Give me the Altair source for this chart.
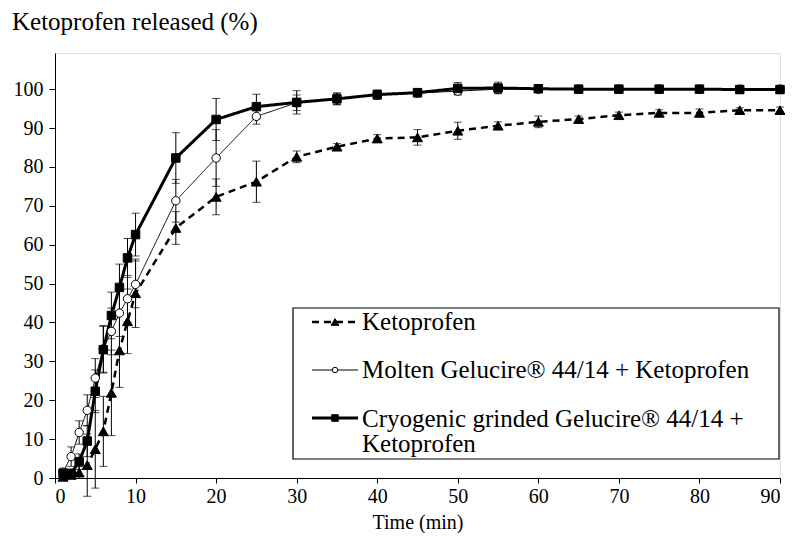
import altair as alt
import pandas as pd

# ---------------- data ----------------
times = [1, 2, 3, 4, 5, 6, 7, 8, 9, 10, 15, 20, 25, 30, 35, 40, 45, 50, 55, 60, 65, 70, 75, 80, 85, 90]

series_names = [
    "Ketoprofen",
    "Molten Gelucire® 44/14 + Ketoprofen",
    "Cryogenic grinded Gelucire® 44/14 + Ketoprofen",
]

keto_mean = [0.3, 0.8, 1.4, 3.3, 7.4, 12.0, 21.9, 32.8, 40.3, 47.5, 64.3, 72.3, 76.2, 82.6, 85.2,
             87.3, 87.6, 89.3, 90.6, 91.6, 92.3, 93.3, 93.9, 93.9, 94.6, 94.6]
keto_sd = [0.5, 1.0, 1.5, 8.0, 10.0, 9.0, 11.0, 9.5, 8.3, 8.8, 4.2, 4.6, 5.3, 1.5, 0.8,
           1.0, 2.0, 2.2, 1.0, 1.5, 0.8, 0.8, 0.8, 1.0, 0.6, 0.8]

molten_mean = [1.5, 5.5, 11.7, 17.4, 25.7, 33.2, 37.7, 42.4, 46.1, 49.8, 71.3, 82.3, 93.0, 96.5, 97.5,
               98.5, 99.0, 99.5, 100.0, 100.0, 100.0, 100.0, 100.0, 100.0, 100.0, 100.0]
molten_sd = [1.0, 2.5, 3.0, 4.0, 5.0, 6.0, 6.0, 6.0, 6.0, 6.0, 5.5, 7.3, 2.0, 2.0, 1.5,
             1.0, 1.0, 1.0, 1.0, 0.5, 0.5, 0.5, 0.5, 0.5, 0.5, 0.5]

cryo_mean = [1.2, 1.2, 4.2, 9.5, 22.3, 33.0, 41.8, 49.0, 56.6, 62.6, 82.3, 92.2, 95.5, 96.6, 97.5,
             98.6, 99.1, 100.2, 100.3, 100.1, 100.0, 100.0, 100.0, 100.0, 99.9, 99.9]
cryo_sd = [1.0, 1.0, 2.0, 4.0, 5.5, 6.0, 6.0, 6.0, 5.0, 5.5, 6.5, 5.4, 3.2, 3.0, 1.5,
           1.2, 0.8, 1.5, 1.5, 0.6, 0.5, 0.5, 0.5, 0.5, 0.5, 0.5]

x_ticks = list(range(0, 91, 10))
y_ticks = list(range(0, 101, 10))

chart_title = "Ketoprofen released (%)"

# ---------------- build tables ----------------
def make_df(name, means, sds):
    return pd.DataFrame({
        "series": name,
        "time": times,
        "value": means,
        "lo": [m - s for m, s in zip(means, sds)],
        "hi": [m + s for m, s in zip(means, sds)],
    })

dfs = [make_df(series_names[0], keto_mean, keto_sd),
       make_df(series_names[1], molten_mean, molten_sd),
       make_df(series_names[2], cryo_mean, cryo_sd)]

FONT = "Liberation Serif"

xscale = alt.Scale(domain=[0, 90], nice=False, zero=False)
yscale = alt.Scale(domain=[0, 109.3], nice=False)

x_axis = alt.Axis(values=x_ticks, title="Time (min)", grid=False, domainColor="black",
                  tickColor="black", tickSize=5, labelFont=FONT, labelFontSize=20,
                  labelColor="black", labelPadding=3, titleFont=FONT, titleFontSize=20,
                  titleFontWeight="normal", titleColor="black", titlePadding=6)
y_axis = alt.Axis(values=y_ticks, title=None, grid=False, domainColor="black",
                  tickColor="black", tickSize=6, labelFont=FONT, labelFontSize=20,
                  labelColor="black", labelPadding=6)


def X():
    return alt.X("time:Q", scale=xscale, axis=x_axis, title="Time (min)")


def Y(field):
    return alt.Y(f"{field}:Q", scale=yscale, axis=y_axis, title=None)


styles = [
    dict(width=2.5, dash=[7, 5], shape="triangle-up", size=100, fill="black"),
    dict(width=1, dash=[1, 0], shape="circle", size=70, fill="white"),
    dict(width=3, dash=[1, 0], shape="square", size=72, fill="black"),
]

layers = []
for df, st in zip(dfs, styles):
    base = alt.Chart(df)
    rules = base.mark_rule(color="black", strokeWidth=1).encode(x=X(), y=Y("lo"), y2="hi:Q")
    cap_lo = base.mark_tick(color="black", thickness=1, size=8, orient="horizontal").encode(
        x=X(), y=Y("lo"))
    cap_hi = base.mark_tick(color="black", thickness=1, size=8, orient="horizontal").encode(
        x=X(), y=Y("hi"))
    line = base.mark_line(color="black", strokeWidth=st["width"], strokeDash=st["dash"]).encode(
        x=X(), y=Y("value"))
    layers += [rules, cap_lo, cap_hi, line]

for df, st in zip(dfs, styles):
    pts = alt.Chart(df).mark_point(shape=st["shape"], filled=True, size=st["size"],
                                   fill=st["fill"], stroke="black", strokeWidth=1,
                                   opacity=1).encode(x=X(), y=Y("value"))
    layers.append(pts)

# ---------------- legend (box, samples, labels) and title text ----------------
one = pd.DataFrame({"k": [0]})
box = alt.Chart(one).mark_rect(fill="white", stroke="black", strokeWidth=1.2).encode(
    x=alt.value(238), x2=alt.value(724), y=alt.value(255), y2=alt.value(406))
layers.append(box)

leg_y = [269, 317, 365]
for name, st, yy in zip(series_names, styles, leg_y):
    samp = alt.Chart(one).mark_rule(color="black", strokeWidth=st["width"],
                                    strokeDash=st["dash"]).encode(
        x=alt.value(257), x2=alt.value(303), y=alt.value(yy))
    mk = alt.Chart(one).mark_point(shape=st["shape"], filled=True,
                                   size=st["size"] * 0.6 if st["shape"] != "circle" else 30,
                                   fill=st["fill"], stroke="black", strokeWidth=1,
                                   opacity=1).encode(x=alt.value(280), y=alt.value(yy))
    layers += [samp, mk]

for lbl, base_y in zip(series_names[:2], [277, 325]):
    layers.append(
        alt.Chart(pd.DataFrame({"label": [lbl]})).mark_text(
            align="left", baseline="alphabetic", font=FONT, fontSize=25, color="black").encode(
            x=alt.value(307), y=alt.value(base_y), text="label:N"))
cryo_lbl = alt.Chart(one).mark_text(
    align="left", baseline="alphabetic", font=FONT, fontSize=25, color="black",
    lineHeight=25).encode(
    x=alt.value(307), y=alt.value(373.5),
    text=alt.value(["Cryogenic grinded Gelucire® 44/14 +", "Ketoprofen"]))
layers.append(cryo_lbl)

title_txt = alt.Chart(pd.DataFrame({"label": [chart_title]})).mark_text(
    align="left", baseline="alphabetic", font=FONT, fontSize=25, color="black").encode(
    x=alt.value(-43), y=alt.value(-23), text="label:N")
layers.append(title_txt)

chart = alt.layer(*layers).properties(
    width=725, height=425,
    autosize=alt.AutoSizeParams(type="none"),
    padding={"left": 47, "top": 45, "right": 5, "bottom": 55},
).configure_view(stroke="#a6a6a6", strokeWidth=1).configure(background="white")

chart.save("out.html", embed_options={"renderer": "svg", "actions": False})
